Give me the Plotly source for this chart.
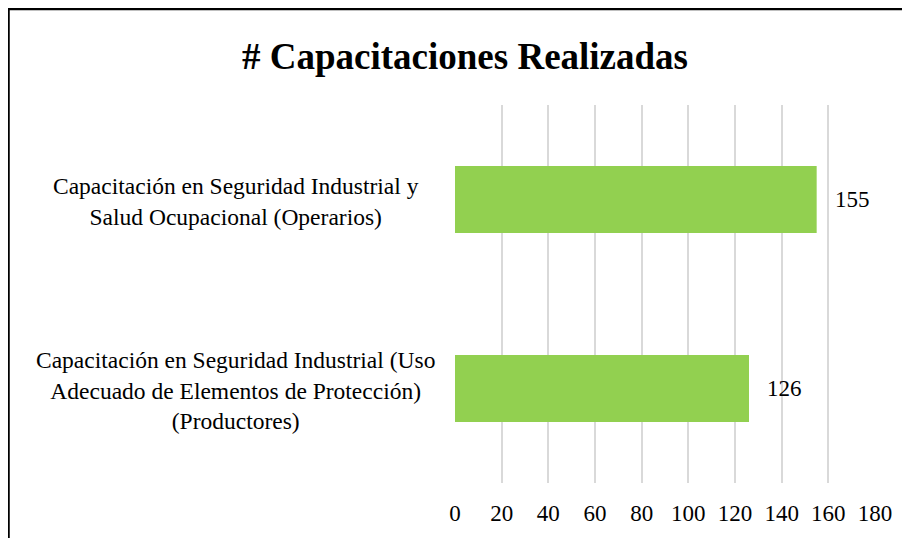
import plotly.graph_objects as go

categories = [
    "Capacitación en Seguridad Industrial y<br>Salud Ocupacional (Operarios)",
    "Capacitación en Seguridad Industrial (Uso<br>Adecuado de Elementos de Protección)<br>(Productores)",
]
values = [155, 126]
tick_vals = [0, 20, 40, 60, 80, 100, 120, 140, 160, 180]
title_text = "# Capacitaciones Realizadas"

# page has an 8px body margin; all pixel targets below are in page coords
OFF = 8
W, H = 910, 538
L, R, T, B = 455 - OFF, W - (875 - OFF), 105 - OFF, H - (483 - OFF)
pw, ph = W - L - R, H - T - B

def px_x(p):
    return (p - OFF - L) / pw

def px_y(p):
    return (H - B - (p - OFF)) / ph

font_family = "Liberation Serif"

fig = go.Figure(
    go.Bar(
        y=categories,
        x=values,
        orientation="h",
        marker=dict(color="#92D050", line=dict(width=0)),
        hoverinfo="x",
    )
)

annotations = []
for cat, v in zip(categories, values):
    annotations.append(dict(
        x=v, y=cat, xref="x", yref="y", text=str(v), showarrow=False,
        xanchor="left", xshift=16, font=dict(family=font_family, size=23, color="#000000"),
    ))
    annotations.append(dict(
        x=px_x(236), y=cat, xref="paper", yref="y", text=cat, showarrow=False,
        xanchor="center", align="center", yshift=-2,
        font=dict(family=font_family, size=23.5, color="#000000"),
    ))

fig.update_layout(
    width=W, height=H,
    margin=dict(l=L, r=R, t=T, b=B),
    paper_bgcolor="white", plot_bgcolor="white",
    showlegend=False,
    bargap=0.645,
    title=dict(
        text="<b>" + title_text + "</b>", x=(465 - OFF) / W, xref="container",
        xanchor="center", y=1 - (56 - OFF) / H, yref="container", yanchor="middle",
        font=dict(family=font_family, size=37, color="#000000"),
    ),
    xaxis=dict(
        range=[0, 180], tickvals=tick_vals, showgrid=True, gridcolor="#D9D9D9", gridwidth=1.5,
        zeroline=False, showline=False, ticks="", ticklabelstandoff=14,
        tickfont=dict(family=font_family, size=23, color="#000000"),
        fixedrange=True,
    ),
    yaxis=dict(
        autorange="reversed", showticklabels=False, showgrid=False, zeroline=False,
        showline=False, ticks="", fixedrange=True,
    ),
    annotations=annotations,
    shapes=[dict(
        type="rect", xref="paper", yref="paper",
        x0=px_x(8.5), x1=px_x(930), y0=px_y(560), y1=px_y(9),
        line=dict(color="#000000", width=2.5), fillcolor="rgba(0,0,0,0)", layer="above",
    )],
)

fig.write_html("out.html")
